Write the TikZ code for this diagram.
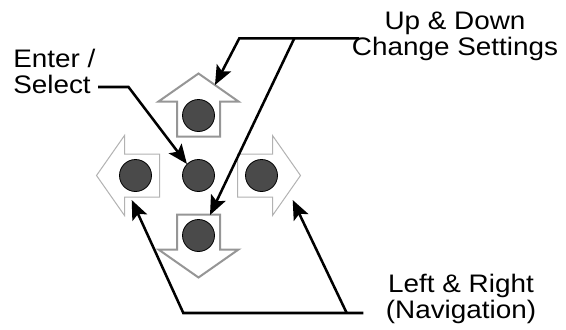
\documentclass[tikz,border=0pt]{standalone}
\usepackage{fontspec}
\usepackage{graphicx}
\setmainfont{Liberation Sans}
\usetikzlibrary{arrows.meta}
\definecolor{btnfill}{RGB}{74,74,74}
\definecolor{keygray}{RGB}{150,150,150}
\definecolor{keylight}{RGB}{178,178,178}
\begin{document}
\begin{tikzpicture}[x=0.75pt,y=-0.75pt,
  leader/.style={line width=1.9pt},
  callout/.style={line width=1.9pt, -{Stealth[length=14.5pt,width=12pt,inset=3pt]}},
  txt/.style={inner sep=0pt, font=\fontsize{19pt}{19.4pt}\selectfont},
  btn/.style={circle, draw=black, line width=0.6pt, fill=btnfill,
              minimum size=24pt, inner sep=0pt},
  vkey/.style={draw=keygray, line width=1.5pt, fill=white},
  hkey/.style={draw=keylight, line width=0.75pt, fill=white},
  padarrow/.pic={
    \path[pic actions] (-21.5,-39) -- (-21.5,-74) -- (-40,-74) -- (0,-102)
      -- (40,-74) -- (21.5,-74) -- (21.5,-39) -- cycle;
  }
]
\useasboundingbox (0,0) rectangle (566,329);

% the four direction keys of the pad
\pic[vkey] at (198.5,175.5) {padarrow};
\pic[vkey, rotate=180] at (198.5,175.5) {padarrow};
\pic[hkey, rotate=90] at (198.5,175.5) {padarrow};
\pic[hkey, rotate=-90] at (198.5,175.5) {padarrow};

% buttons
\node[btn] (btncenter) at (198.5,175.5) {};
\node[btn] (btnup)     at (198.5,115.5) {};
\node[btn] (btndown)   at (198.5,235.5) {};
\node[btn] (btnleft)   at (135.5,175.5) {};
\node[btn] (btnright)  at (261.5,175.5) {};

% labels
\node[txt, anchor=base west] (enter) at (13,67)
  {\scalebox{1.1}[1]{\begin{tabular}[t]{@{}l@{}}Enter /\\Select\end{tabular}}};
\node[txt, anchor=base] (updown) at (455,29.5)
  {\scalebox{1.1}[1]{\begin{tabular}[t]{@{}c@{}}Up \& Down\\Change Settings\end{tabular}}};
\node[txt, anchor=base] (leftright) at (461,292.7)
  {\scalebox{1.1}[1]{\begin{tabular}[t]{@{}c@{}}Left \& Right\\(Navigation)\end{tabular}}};

% leader points
\coordinate (esl) at (98,87);
\coordinate (esk) at (128.5,87);
\coordinate (udl) at (359,38.3);
\coordinate (udb) at (294.3,38.3);
\coordinate (udk) at (239.3,38.3);
\coordinate (uptip) at (215,85);
\coordinate (downtip) at (210,215);
\coordinate (lrl) at (363.3,313);
\coordinate (lrb) at (346.7,313);
\coordinate (lrk) at (183.3,313);
\coordinate (lefttip) at (131.7,200);
\coordinate (righttip) at (292.7,200);

% callouts
\draw[callout] (esl) -- (esk) -- (btncenter.135);
\draw[callout] (udl) -- (udk) -- (uptip);
\draw[callout] (udb) -- (downtip);
\draw[callout] (lrl) -- (lrk) -- (lefttip);
\draw[callout] (lrb) -- (righttip);
\end{tikzpicture}
\end{document}
